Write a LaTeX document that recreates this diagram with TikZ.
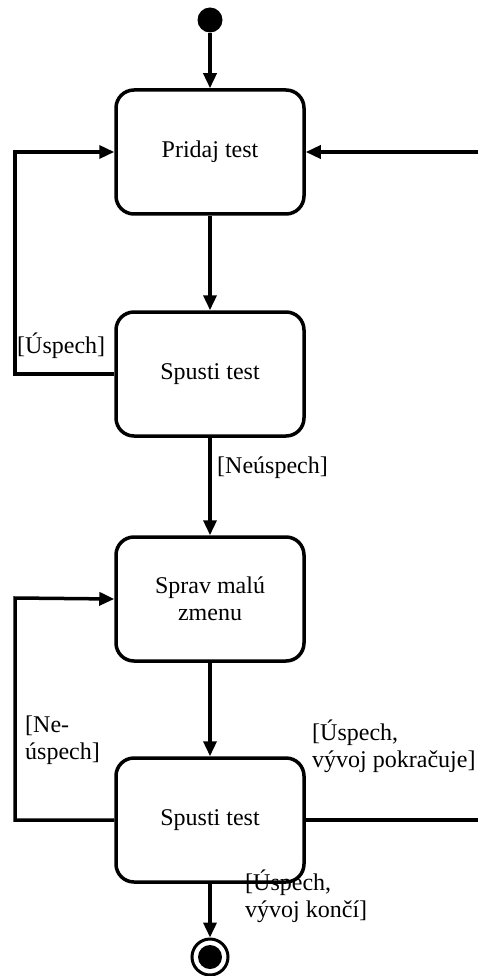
\documentclass[tikz,border=0pt]{standalone}
\usepackage{fontspec}
\setmainfont{Liberation Serif}
\usetikzlibrary{arrows.meta,shapes,positioning}

\begin{document}
\begin{tikzpicture}[x=1pt,y=-1pt]
\tikzstyle{every node}+=[font=\fontsize{24}{27}\selectfont]
\tikzstyle{state}=[draw,line width=3.5pt,rounded corners=18pt,minimum width=188pt,minimum height=124pt,align=center]
\tikzstyle{trans}=[line width=3.5pt,-{Triangle[length=15pt,width=13pt]}]
\tikzstyle{guard}=[inner sep=0pt,align=left]
\useasboundingbox (0,0) rectangle (478,976);
% states
\node [circle,fill=black,minimum size=25pt,inner sep=0pt] (start) at (210,20) {};
\node [state] (pridaj) at (210,152) {Pridaj test};
\node [state] (spusti1) at (210,374) {Spusti test};
\node [state] (sprav) at (210,599) {Sprav malú\\zmenu};
\node [state] (spusti2) at (210,820) {Spusti test};
\node [circle,draw,line width=3pt,minimum size=36pt,inner sep=0pt] (end) at (210,957) {};
\fill [black] (end.center) circle (12);
% loop points
\coordinate (l1) at (15,374);
\coordinate (l1top) at (15,152);
\coordinate (l2) at (15,820);
\coordinate (l2top) at (15,598);
\coordinate (r2) at (482,820);
\coordinate (r2top) at (482,152);
% transitions
\draw [trans] (start) -- (pridaj);
\draw [trans] (pridaj) -- (spusti1);
\draw [trans] (spusti1) -- (sprav);
\draw [trans] (sprav) -- (spusti2);
\draw [trans] (spusti2) -- (end);
\draw [trans] (spusti1.west) -- (l1) -- (l1top) -- (pridaj.west);
\draw [trans] (spusti2.west) -- (l2) -- (l2top) -- (sprav.west);
\draw [trans] (spusti2.east) -- (r2) -- (r2top) -- (pridaj.east);
% guards
\node [guard,anchor=base west] (g1) at (17,353) {[Úspech]};
\node [guard,anchor=base west] (g2) at (217,473) {[Neúspech]};
\node [guard,anchor=base west] (g3) at (25,759) {[Ne-\\úspech]};
\node [guard,anchor=base west] (g4) at (312,767) {[Úspech,\\vývoj pokračuje]};
\node [guard,anchor=base west] (g5) at (245,917) {[Úspech,\\vývoj končí]};
\end{tikzpicture}
\end{document}
